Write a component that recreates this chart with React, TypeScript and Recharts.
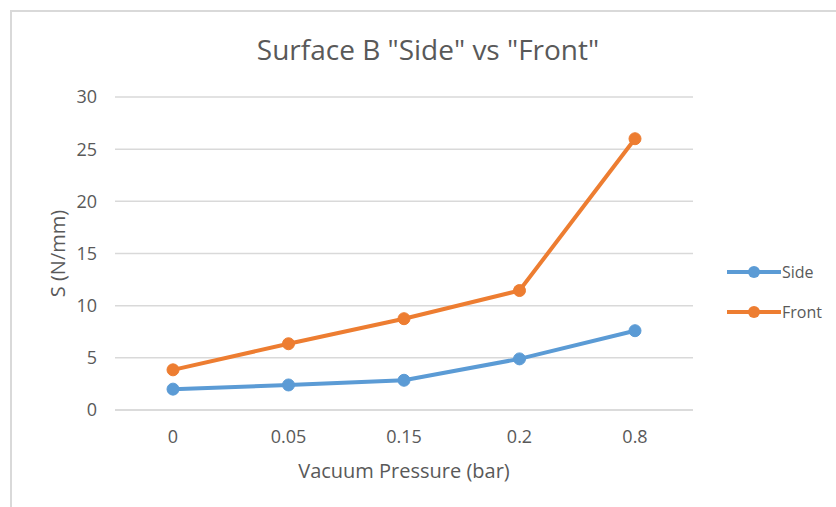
import { LineChart, Line, XAxis, YAxis, CartesianGrid, Label } from 'recharts';

const pressures = ['0', '0.05', '0.15', '0.2', '0.8'];
const sideValues = [2.0, 2.4, 2.85, 4.9, 7.6];
const frontValues = [3.85, 6.35, 8.75, 11.45, 26.0];
const yTicks = [0, 5, 10, 15, 20, 25, 30];

const data = pressures.map((p, i) => ({ name: p, side: sideValues[i], front: frontValues[i] }));

const FONT = '"Open Sans", "Segoe UI", sans-serif';
const TEXT = '#595959';
const GRID = '#d9d9d9';

const legendItems = [
  { label: 'Side', color: '#5b9bd5' },
  { label: 'Front', color: '#ed7d31' },
];

function LegendBox() {
  return (
    <div style={{ position: 'absolute', left: 727, top: 252, fontFamily: FONT, fontSize: 16, color: TEXT }}>
      {legendItems.map((it) => (
        <div key={it.label} style={{ display: 'flex', alignItems: 'center', height: 40 }}>
          <svg width={54} height={14}>
            <line x1={0} y1={7} x2={54} y2={7} stroke={it.color} strokeWidth={4} />
            <circle cx={27} cy={7} r={6} fill={it.color} />
          </svg>
          <span style={{ marginLeft: 1 }}>{it.label}</span>
        </div>
      ))}
    </div>
  );
}

export default function App() {
  return (
    <div style={{ position: 'absolute', left: 0, top: 0, width: 836, height: 507, background: '#fff', overflow: 'hidden' }}>
      <div style={{ position: 'absolute', left: 10, top: 10, width: 900, height: 600, border: `2px solid ${GRID}` }} />
      <div
        style={{
          position: 'absolute', left: 0, width: 856, top: 30, textAlign: 'center',
          fontFamily: FONT, fontSize: 28, color: TEXT,
        }}
      >
        Surface B "Side" vs "Front"
      </div>
      <div style={{ position: 'absolute', left: 0, top: 0 }}>
        <LineChart width={836} height={507} data={data} margin={{ top: 97, right: 143, bottom: 67, left: 55 }}>
          <CartesianGrid horizontal vertical={false} stroke={GRID} strokeWidth={1.5} />
          <XAxis
            dataKey="name"
            height={30}
            padding={{ left: 58, right: 58 }}
            axisLine={{ stroke: GRID, strokeWidth: 1.5 }}
            tickLine={false}
            tickMargin={14}
            tick={{ fill: TEXT, fontSize: 18, fontFamily: FONT }}
          >
            <Label value="Vacuum Pressure (bar)" position="bottom" offset={24} fill={TEXT} fontSize={20} fontFamily={FONT} />
          </XAxis>
          <YAxis
            width={60}
            domain={[0, 30]}
            ticks={yTicks}
            axisLine={false}
            tickLine={false}
            tickMargin={12}
            tick={{ fill: TEXT, fontSize: 18, fontFamily: FONT }}
          >
            <Label value="S (N/mm)" angle={-90} position="insideLeft" offset={3} fill={TEXT} fontSize={20} fontFamily={FONT} style={{ textAnchor: 'middle' }} />
          </YAxis>
          <Line type="linear" dataKey="side" name="Side" stroke="#5b9bd5" strokeWidth={4} dot={{ r: 6, fill: '#5b9bd5', stroke: '#5b9bd5', strokeWidth: 1 }} activeDot={false} isAnimationActive={false} />
          <Line type="linear" dataKey="front" name="Front" stroke="#ed7d31" strokeWidth={4} dot={{ r: 6, fill: '#ed7d31', stroke: '#ed7d31', strokeWidth: 1 }} activeDot={false} isAnimationActive={false} />
        </LineChart>
      </div>
      <LegendBox />
    </div>
  );
}
